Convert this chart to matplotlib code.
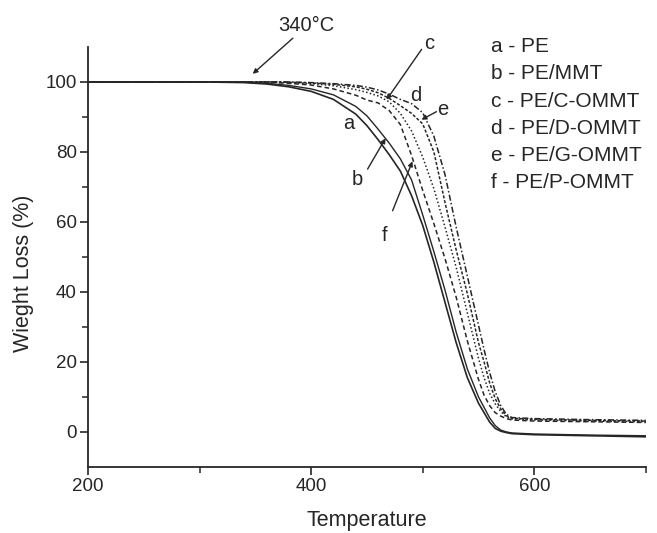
import matplotlib
matplotlib.use("Agg")
import matplotlib.pyplot as plt
from matplotlib.ticker import FixedLocator

plt.rcParams['font.family'] = ['Liberation Sans', 'DejaVu Sans']

temperature = [200, 300, 340, 360, 380, 400, 420, 440, 450, 460, 470, 480, 490, 500,
               510, 520, 530, 540, 550, 555, 560, 565, 570, 575, 580, 600, 650, 700]

pe = [100, 100, 99.8, 99.4, 98.6, 97.3, 95.0, 90.8, 87.5, 83.5, 79.2, 74.5, 67.5, 59.0,
      48.5, 37.0, 25.5, 15.5, 8.2, 5.5, 2.8, 1.0, 0.2, -0.2, -0.5, -0.8, -1.1, -1.4]
pe_mmt = [100, 100, 99.9, 99.6, 99.0, 98.0, 96.3, 93.0, 90.3, 86.5, 82.5, 78.0, 72.0, 62.0,
          51.5, 40.5, 28.5, 18.0, 10.0, 7.0, 4.0, 1.8, 0.5, 0.0, -0.3, -0.6, -0.9, -1.1]
pe_c_ommt = [100, 100, 100, 100, 99.8, 99.5, 98.9, 97.8, 97.0, 96.0, 94.3, 91.0, 86.0, 78.5,
             69.5, 58.5, 47.0, 34.0, 21.0, 15.5, 11.0, 8.0, 5.8, 4.3, 3.7, 3.4, 3.1, 2.9]
pe_d_ommt = [100, 100, 100, 100, 100, 99.8, 99.5, 99.0, 98.5, 97.7, 96.5, 95.0, 93.8, 91.2,
             84.5, 73.5, 58.5, 44.5, 30.5, 23.5, 17.0, 11.5, 7.5, 5.0, 4.1, 3.8, 3.5, 3.3]
pe_g_ommt = [100, 100, 100, 100, 99.9, 99.7, 99.3, 98.6, 97.9, 96.9, 95.3, 93.2, 91.0, 88.0,
             80.0, 65.5, 52.0, 39.5, 25.5, 20.0, 14.0, 9.5, 6.5, 4.6, 3.9, 3.6, 3.3, 3.1]
pe_p_ommt = [100, 100, 100, 99.9, 99.6, 99.1, 98.0, 96.2, 94.8, 94.0, 91.8, 87.8, 79.0, 69.0,
             59.5, 49.5, 38.5, 26.0, 15.0, 10.5, 7.5, 5.5, 4.5, 3.8, 3.4, 3.1, 2.9, 2.7]

legend_lines = ["a - PE", "b - PE/MMT", "c - PE/C-OMMT", "d - PE/D-OMMT",
                "e - PE/G-OMMT", "f - PE/P-OMMT"]

x_major = [200, 400, 600]
x_minor = [300, 500, 700]
y_major = [0, 20, 40, 60, 80, 100]
y_minor = [10, 30, 50, 70, 90]

ink = '#262626'

fig = plt.figure(figsize=(6.57, 5.33), dpi=100)
ax = fig.add_axes([0.134, 0.124, 0.849, 0.788])

series = [
    (pe, dict(linestyle='-', linewidth=1.2)),
    (pe_mmt, dict(linestyle='-', linewidth=1.0)),
    (pe_c_ommt, dict(linestyle=(0, (1, 1.5)), linewidth=1.1)),
    (pe_d_ommt, dict(linestyle=(0, (4, 1.5, 1, 1.5)), linewidth=1.1)),
    (pe_g_ommt, dict(linestyle=(0, (2, 1.2)), linewidth=1.1)),
    (pe_p_ommt, dict(linestyle=(0, (3, 2)), linewidth=1.1)),
]
for vals, st in series:
    ax.plot(temperature, vals, color=ink, **st)

ax.set_xlim(200, 700)
ax.set_ylim(-10, 110)
ax.xaxis.set_major_locator(FixedLocator(x_major))
ax.xaxis.set_minor_locator(FixedLocator(x_minor))
ax.yaxis.set_major_locator(FixedLocator(y_major))
ax.yaxis.set_minor_locator(FixedLocator(y_minor))

for s in ['top', 'right']:
    ax.spines[s].set_visible(False)
for s in ['left', 'bottom']:
    ax.spines[s].set_linewidth(1.3)
    ax.spines[s].set_color(ink)

ax.tick_params(which='major', direction='out', length=6, width=1.2, colors=ink,
               labelsize=13.5, pad=2)
ax.tick_params(which='minor', direction='out', length=4, width=1.1, colors=ink)

ax.set_xlabel('Temperature', fontsize=15.5, color=ink, labelpad=11)
ax.set_ylabel('Wieght Loss (%)', fontsize=15.5, color=ink)
ax.yaxis.set_label_coords(-0.097, 0.46)

arrow_kw = dict(arrowstyle='-|>', color=ink, lw=1.0, mutation_scale=7,
                shrinkA=0, shrinkB=0)
fs = 14.5
ax.annotate('340°C', xy=(347.6, 102.3), xytext=(396, 116), fontsize=fs, color=ink,
            ha='center', va='center', arrowprops=arrow_kw, annotation_clip=False)
ax.annotate('', xy=(467.6, 94.9), xytext=(499, 109.3), arrowprops=arrow_kw,
            annotation_clip=False)
ax.text(506, 111, 'c', fontsize=fs, color=ink, ha='center', va='center')
ax.text(493.5, 96, 'd', fontsize=fs, color=ink, ha='center', va='center')
ax.annotate('', xy=(498.9, 89.2), xytext=(512.3, 91.5), arrowprops=arrow_kw)
ax.text(518, 92, 'e', fontsize=fs, color=ink, ha='center', va='center')
ax.text(433.6, 88.1, 'a', fontsize=fs, color=ink, ha='center', va='center')
ax.annotate('', xy=(466.7, 83.9), xytext=(450.6, 75.1), arrowprops=arrow_kw)
ax.text(441.6, 72.2, 'b', fontsize=fs, color=ink, ha='center', va='center')
ax.annotate('', xy=(490.8, 77.3), xytext=(473, 63.2), arrowprops=arrow_kw)
ax.text(465.5, 56, 'f', fontsize=fs, color=ink, ha='center', va='center')

for i, t in enumerate(legend_lines):
    ax.text(0.722, 1.0 - i * 0.0645, t, transform=ax.transAxes, fontsize=15,
            color=ink, ha='left', va='center')

fig.savefig('out.png', dpi=100)
